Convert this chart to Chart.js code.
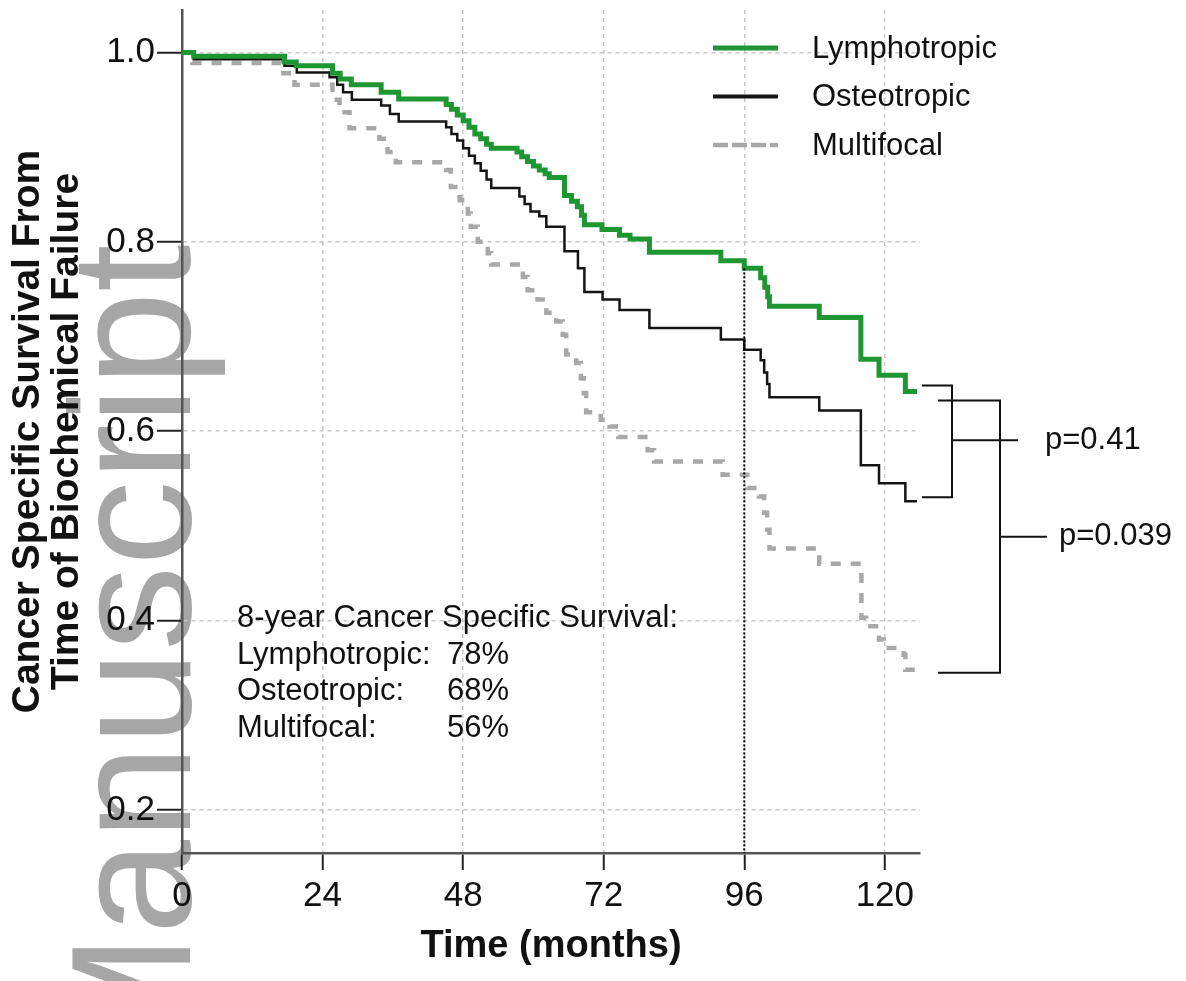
<!DOCTYPE html>
<html>
<head>
<meta charset="utf-8">
<script src="https://cdn.jsdelivr.net/npm/chart.js@4.4.1/dist/chart.umd.min.js"></script>
<style>
  html, body { margin: 0; padding: 0; background: #fff; }
  canvas { display: block; }
</style>
</head>
<body>
<canvas id="kmChart" width="1186" height="981"></canvas>
<script>
// tick labels
const monthTicks = [0, 24, 48, 72, 96, 120];
const survivalTicks = [0.2, 0.4, 0.6, 0.8, 1.0];

// groups
const groupNames = ['Lymphotropic', 'Osteotropic', 'Multifocal'];

// Kaplan-Meier steps (month, survival)
const lymphoMonths = [0, 2, 17.5, 19.5, 25.7, 27, 28.9, 34, 37,
  45.1, 46, 47, 48, 49, 50, 51, 52, 52.8,
  57.2, 58, 59, 60, 61, 62, 62.7,
  65.3, 66.5, 67.5, 68.2, 68.7,
  71.7, 74.7, 76.5, 79.8,
  92, 96, 98.8, 99.5, 100, 100.3,
  108.8, 115.9, 119, 123.5, 125.5];
const lymphoSurv = [1.0, 0.996, 0.990, 0.986, 0.978, 0.972, 0.966, 0.958, 0.951,
  0.945, 0.940, 0.934, 0.928, 0.921, 0.914, 0.909, 0.903, 0.899,
  0.895, 0.890, 0.885, 0.880, 0.876, 0.872, 0.868,
  0.849, 0.843, 0.837, 0.828, 0.818,
  0.813, 0.807, 0.803, 0.789,
  0.780, 0.772, 0.762, 0.752, 0.742, 0.732,
  0.720, 0.676, 0.659, 0.642, 0.642];

const osteoMonths = [0, 2, 17.5, 19.6, 25.2, 26.5, 27.5, 29,
  34, 35.5, 37,
  45.1, 46, 47, 48, 49, 50, 51, 52, 52.8,
  57.6, 58.5, 59.5, 61, 62.2,
  65.3, 67.6, 68.7, 71.8, 74.7, 79.8,
  92, 96, 98.8, 99.4, 99.9, 100.3,
  108.8, 115.9, 119, 123.5, 125.5];
const osteoSurv = [1.0, 0.993, 0.986, 0.979, 0.974, 0.966, 0.958, 0.950,
  0.944, 0.935, 0.927,
  0.921, 0.914, 0.907, 0.899, 0.891, 0.883, 0.875, 0.866, 0.857,
  0.848, 0.840, 0.832, 0.827, 0.816,
  0.790, 0.772, 0.747, 0.739, 0.728, 0.709,
  0.697, 0.686, 0.675, 0.662, 0.650, 0.636,
  0.622, 0.564, 0.545, 0.526, 0.526];

const multiMonths = [0, 1.8, 16.9, 19.2, 25.7, 26.9, 28.6, 33.7, 35.1, 36.5,
  45.1, 45.9, 47.4, 48.8, 49.3, 50.5, 52.2, 52.8,
  58.2, 59.0, 60.7, 62.2, 63.9, 65.0, 65.6, 67.3, 68.1, 68.6,
  69.0, 71.5, 73.0, 74.5, 79.5, 80.6,
  92.3, 96.5, 98.5, 99.4, 99.9, 100.3,
  108.8, 116.0, 116.8, 119.0, 119.8, 123.2, 123.5, 125.5];
const multiSurv = [1.0, 0.989, 0.978, 0.966, 0.950, 0.937, 0.920, 0.909, 0.895, 0.884,
  0.876, 0.858, 0.844, 0.830, 0.816, 0.800, 0.788, 0.776,
  0.763, 0.749, 0.739, 0.725, 0.716, 0.702, 0.681, 0.672, 0.656, 0.640,
  0.620, 0.612, 0.605, 0.594, 0.580, 0.568,
  0.554, 0.540, 0.531, 0.514, 0.496, 0.476,
  0.460, 0.403, 0.394, 0.380, 0.371, 0.364, 0.348, 0.348];

const landmarkMonth = 96;
const eightYearTitle = '8-year Cancer Specific Survival:';
const eightYearValues = ['78%', '68%', '56%'];
const pValues = ['p=0.41', 'p=0.039'];

const FONT = '"Liberation Sans", Arial, Helvetica, sans-serif';
const colors = ['#1e9632', '#141414', '#a8a8a8'];

const toPoints = (xs, ys) => xs.map((x, i) => ({ x: x, y: ys[i] }));
const survivalAt = (xs, ys, t) => {
  let v = ys[0];
  xs.forEach((x, i) => { if (x <= t) v = ys[i]; });
  return v;
};

const yMin = 0.1545;
const yMax = 1.0449;

// watermark behind the chart
const watermark = {
  id: 'watermark',
  beforeDraw(chart) {
    const ctx = chart.ctx;
    ctx.save();
    ctx.fillStyle = '#fff';
    ctx.fillRect(0, 0, chart.width, chart.height);
    ctx.translate(190, 1076);
    ctx.rotate(-Math.PI / 2);
    ctx.font = '170px ' + FONT;
    ctx.fillStyle = '#a6a6a6';
    ctx.textBaseline = 'alphabetic';
    ctx.fillText('Manuscript', 0, 0);
    ctx.restore();
  }
};

// legend, summary text and p-value brackets
const annotations = {
  id: 'annotations',
  afterDraw(chart) {
    const ctx = chart.ctx;
    const area = chart.chartArea;
    const ys = chart.scales.y;
    ctx.save();

    // legend
    ctx.font = '31px ' + FONT;
    ctx.textBaseline = 'middle';
    ctx.fillStyle = '#111';
    const legendDash = [[], [], [15, 4]];
    const legendWidth = [5, 4, 4.5];
    groupNames.forEach((name, i) => {
      const y = 48 + i * 48.5;
      ctx.beginPath();
      ctx.setLineDash(legendDash[i]);
      ctx.strokeStyle = colors[i];
      ctx.lineWidth = legendWidth[i];
      ctx.moveTo(area.right - 207, y);
      ctx.lineTo(area.right - 142, y);
      ctx.stroke();
      ctx.fillText(name, area.right - 108, y + 1);
    });
    ctx.setLineDash([]);

    // 8-year summary
    ctx.textBaseline = 'alphabetic';
    const tx = area.left + 55;
    const ty = area.top + 617;
    ctx.fillText(eightYearTitle, tx, ty);
    groupNames.forEach((name, i) => {
      ctx.fillText(name + ':', tx, ty + (i + 1) * 36.7);
      ctx.fillText(eightYearValues[i], tx + 210, ty + (i + 1) * 36.7);
    });

    // brackets
    const gy = ys.getPixelForValue(lymphoSurv[lymphoSurv.length - 1]) - 6;
    const oy = ys.getPixelForValue(osteoSurv[osteoSurv.length - 1]) - 4;
    const my = ys.getPixelForValue(multiSurv[multiSurv.length - 1]) + 3;
    const r = area.right;
    ctx.strokeStyle = '#111';
    ctx.lineWidth = 2;
    ctx.beginPath();
    ctx.moveTo(r + 2, gy); ctx.lineTo(r + 32, gy); ctx.lineTo(r + 32, oy); ctx.lineTo(r + 2, oy);
    const mid1 = (gy + oy) / 2 - 1;
    ctx.moveTo(r + 32, mid1); ctx.lineTo(r + 98, mid1);
    const top2 = gy + 15;
    ctx.moveTo(r + 18, top2); ctx.lineTo(r + 80, top2); ctx.lineTo(r + 80, my); ctx.lineTo(r + 18, my);
    const mid2 = (top2 + my) / 2;
    ctx.moveTo(r + 80, mid2); ctx.lineTo(r + 127, mid2);
    ctx.stroke();

    ctx.textBaseline = 'middle';
    ctx.fillText(pValues[0], r + 125, mid1);
    ctx.fillText(pValues[1], r + 139, mid2);
    ctx.restore();
  }
};

const lineStyle = { pointRadius: 0, pointHoverRadius: 0, fill: false, stepped: true };

new Chart(document.getElementById('kmChart'), {
  type: 'line',
  data: {
    datasets: [
      { label: 'landmark', data: [
          { x: landmarkMonth, y: survivalAt(lymphoMonths, lymphoSurv, landmarkMonth) },
          { x: landmarkMonth, y: yMin }],
        borderColor: '#000', borderWidth: 2, borderDash: [2, 2],
        pointRadius: 0, fill: false },
      Object.assign({ label: groupNames[0], data: toPoints(lymphoMonths, lymphoSurv),
        borderColor: colors[0], borderWidth: 5 }, lineStyle),
      Object.assign({ label: groupNames[1], data: toPoints(osteoMonths, osteoSurv),
        borderColor: colors[1], borderWidth: 2.5 }, lineStyle),
      Object.assign({ label: groupNames[2], data: toPoints(multiMonths, multiSurv),
        borderColor: colors[2], borderWidth: 4.5, borderDash: [10, 10] }, lineStyle)
    ]
  },
  options: {
    responsive: false,
    animation: false,
    devicePixelRatio: 1,
    layout: { autoPadding: false, padding: { left: 0, top: 10, right: 266, bottom: 0 } },
    plugins: { legend: { display: false }, tooltip: { enabled: false } },
    scales: {
      x: {
        type: 'linear',
        min: 0,
        max: 126,
        afterBuildTicks: (scale) => { scale.ticks = monthTicks.map(v => ({ value: v })); },
        afterFit: (scale) => { scale.height = 128; },
        ticks: { color: '#111', font: { family: FONT, size: 35 }, padding: 5, maxRotation: 0, autoSkip: false },
        grid: { color: '#c8c8c8', lineWidth: 1.5, tickLength: 17, tickColor: '#222', tickWidth: 2, tickBorderDash: [] },
        border: { display: true, color: '#555', width: 2.5, dash: [4, 4] },
        title: { display: true, text: 'Time (months)', color: '#111',
          font: { family: FONT, size: 38, weight: 'bold' }, padding: { top: 0, bottom: 12 } }
      },
      y: {
        min: yMin,
        max: yMax,
        afterBuildTicks: (scale) => { scale.ticks = survivalTicks.map(v => ({ value: v })); },
        afterFit: (scale) => {
          scale.width = 182;
          scale.paddingTop = 0;
          scale.paddingBottom = 0;
        },
        ticks: { color: '#111', font: { family: FONT, size: 35 }, padding: 2,
          callback: (v) => Number(v).toFixed(1) },
        grid: { color: '#c8c8c8', lineWidth: 1.5, tickLength: 25, tickColor: '#222', tickWidth: 2, tickBorderDash: [] },
        border: { display: true, color: '#555', width: 2.5, dash: [4, 4] },
        title: { display: true, text: ['Cancer Specific Survival From', 'Time of Biochemical Failure'],
          color: '#111', font: { family: FONT, size: 39, weight: 'bold', lineHeight: 1.02 },
          padding: { top: 8, bottom: 0 } }
      }
    }
  },
  plugins: [watermark, annotations]
});
</script>
</body>
</html>
